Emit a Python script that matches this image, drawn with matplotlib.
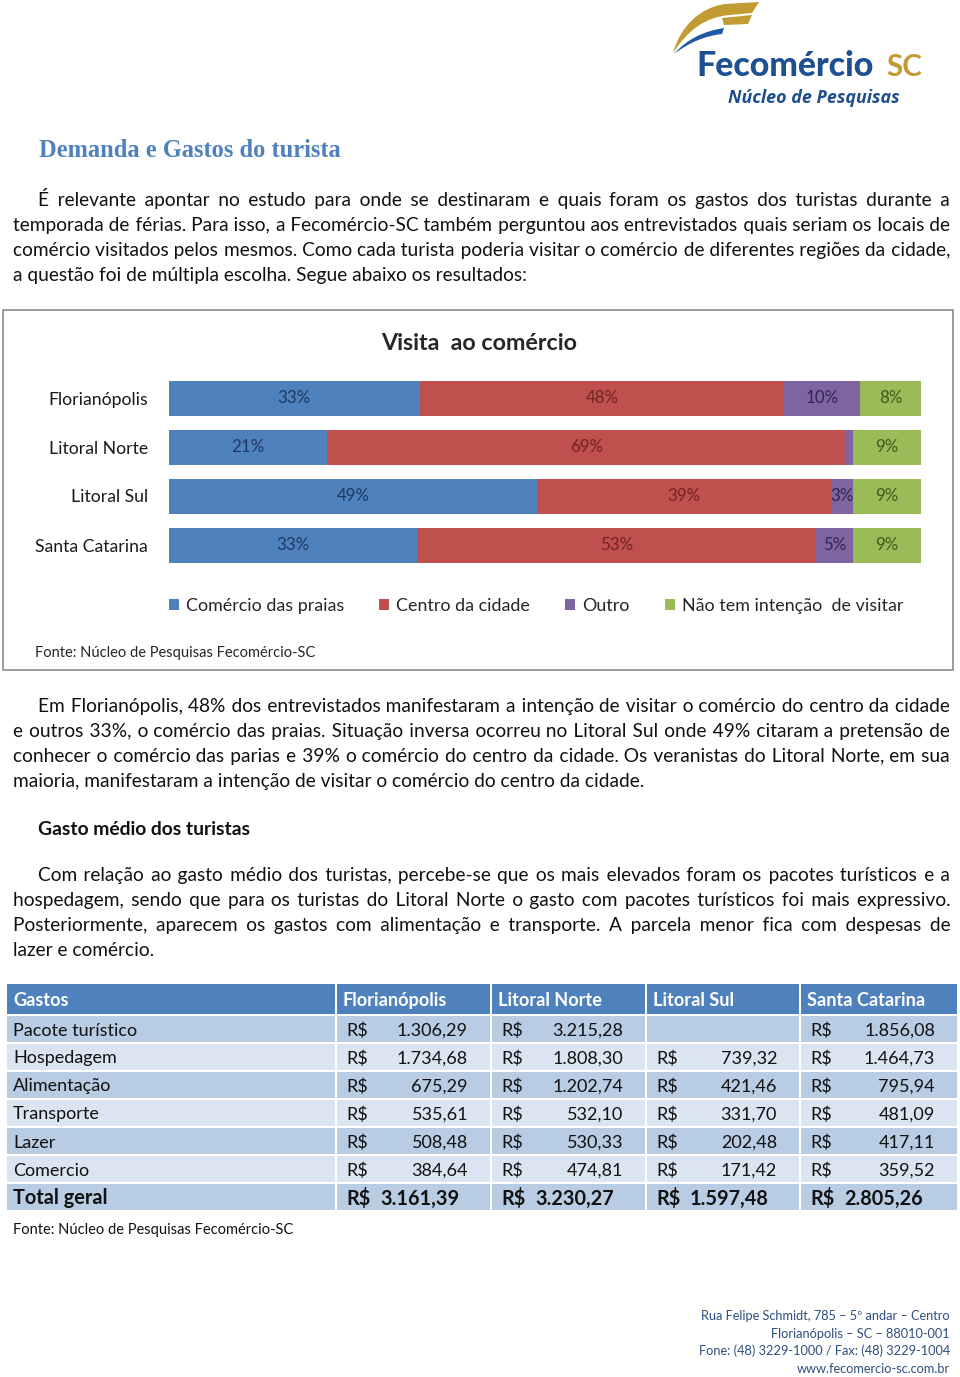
import matplotlib
matplotlib.use('Agg')
import matplotlib.pyplot as plt
from matplotlib.patches import Rectangle, PathPatch
from matplotlib.path import Path

W, H = 960, 1377

# ---------------- data ----------------
regions = ['Florianópolis', 'Litoral Norte', 'Litoral Sul', 'Santa Catarina']
comercio_praias = [33, 21, 49, 33]
centro_cidade = [48, 69, 39, 53]
outro = [10, 1, 3, 5]
nao_visitar = [8, 9, 9, 9]
series_names = ['Comércio das praias', 'Centro da cidade', 'Outro', 'Não tem intenção  de visitar']

gastos_rows = ['Pacote turístico', 'Hospedagem', 'Alimentação', 'Transporte', 'Lazer', 'Comercio']
gastos_cols = ['Florianópolis', 'Litoral Norte', 'Litoral Sul', 'Santa Catarina']
florianopolis_gastos = [1306.29, 1734.68, 675.29, 535.61, 508.48, 384.64]
litoral_norte_gastos = [3215.28, 1808.30, 1202.74, 532.10, 530.33, 474.81]
litoral_sul_gastos = [None, 739.32, 421.46, 331.70, 202.48, 171.42]
santa_catarina_gastos = [1856.08, 1464.73, 795.94, 481.09, 417.11, 359.52]
total_geral = [3161.39, 3230.27, 1597.48, 2805.26]

# ---------------- texts ----------------
heading = 'Demanda e Gastos do turista'
para1 = [
    'É relevante apontar no estudo para onde se destinaram e quais foram os gastos dos turistas durante a',
    'temporada de férias. Para isso, a Fecomércio-SC também perguntou aos entrevistados quais seriam os locais de',
    'comércio visitados pelos mesmos. Como cada turista poderia visitar o comércio de diferentes regiões da cidade,',
    'a questão foi de múltipla escolha. Segue abaixo os resultados:',
]
para2 = [
    'Em Florianópolis, 48% dos entrevistados manifestaram a intenção de visitar o comércio do centro da cidade',
    'e outros 33%, o comércio das praias. Situação inversa ocorreu no Litoral Sul onde 49% citaram a pretensão de',
    'conhecer o comércio das parias e 39% o comércio do centro da cidade. Os veranistas do Litoral Norte, em sua',
    'maioria, manifestaram a intenção de visitar o comércio do centro da cidade.',
]
subheading = 'Gasto médio dos turistas'
para3 = [
    'Com relação ao gasto médio dos turistas, percebe-se que os mais elevados foram os pacotes turísticos e a',
    'hospedagem, sendo que para os turistas do Litoral Norte o gasto com pacotes turísticos foi mais expressivo.',
    'Posteriormente, aparecem os gastos com alimentação e transporte. A parcela menor fica com despesas de',
    'lazer e comércio.',
]
fonte = 'Fonte: Núcleo de Pesquisas Fecomércio-SC'
footer = ['Rua Felipe Schmidt, 785 – 5º andar – Centro',
          'Florianópolis – SC – 88010-001',
          'Fone: (48) 3229-1000 / Fax: (48) 3229-1004',
          'www.fecomercio-sc.com.br']

BODY = 'Lato'
BODY_LIST = ['Lato', 'DejaVu Sans']
BLUE, RED, PURPLE, GREEN = '#4F81BD', '#C0504D', '#8064A2', '#9BBB59'
LABEL_COLORS = ['#1F3864', '#6E2422', '#2E2650', '#435A1E']

fig = plt.figure(figsize=(W / 100, H / 100), dpi=100)
fig.patch.set_facecolor('white')
page = fig.add_axes([0, 0, 1, 1])
page.set_xlim(0, W)
page.set_ylim(H, 0)
page.axis('off')
R = fig.canvas.get_renderer()


def width_of(s, size, **kw):
    t = page.text(0, 0, s, fontsize=size, **kw)
    w = t.get_window_extent(renderer=R).width
    t.remove()
    return w


def fit(s, target, **kw):
    return 20 * target / width_of(s, 20, **kw)


HAIR = '\u200a'


def justify(x0, x1, y, line, size, **kw):
    """Draw one justified line as a single text: widen gaps with hair spaces."""
    words = line.split()
    natural = width_of(' '.join(words), size, **kw)
    hw = (width_of('a' + HAIR * 10 + 'a', size, **kw) - width_of('aa', size, **kw)) / 10
    n = len(words) - 1
    extra = max(0.0, (x1 - x0) - natural)
    s = words[0]
    used = 0
    for i, w in enumerate(words[1:], 1):
        tgt = int(round(extra * i / n / hw))
        k = tgt - used
        used = tgt
        s += ' ' + HAIR * k + w
    page.text(x0, y, s, fontsize=size, ha='left', va='baseline', **kw)


def paragraph(lines, y0, size, indent=38, left=13, right=950, lead=25):
    for i, line in enumerate(lines):
        x0 = indent if i == 0 else left
        y = y0 + i * lead
        if i < len(lines) - 1:
            justify(x0, right, y, line, size, family=BODY_LIST, color='#111111')
        else:
            page.text(x0, y, line, fontsize=size, family=BODY_LIST, color='#111111',
                      ha='left', va='baseline')


# ---------------- logo ----------------
gold = '#C39B33'
navy = '#1D4F91'
gold_path = Path([(673, 53), (680, 28), (698, 8), (725, 4), (759, 2), (752, 13),
                  (730, 15), (705, 17), (688, 30), (673, 53)],
                 [Path.MOVETO, Path.CURVE4, Path.CURVE4, Path.CURVE4, Path.LINETO,
                  Path.LINETO, Path.LINETO, Path.CURVE4, Path.CURVE4, Path.CURVE4])
page.add_patch(PathPatch(gold_path, facecolor=gold, edgecolor='none'))
gold2 = Path([(722, 18), (752, 15), (748, 24), (724, 25), (722, 18)],
             [Path.MOVETO, Path.LINETO, Path.LINETO, Path.LINETO, Path.CLOSEPOLY])
page.add_patch(PathPatch(gold2, facecolor=gold, edgecolor='none'))
blue_path = Path([(674, 54), (688, 38), (705, 31), (724, 28), (722, 34),
                  (705, 36), (690, 42), (674, 54)],
                 [Path.MOVETO, Path.CURVE4, Path.CURVE4, Path.CURVE4, Path.LINETO,
                  Path.CURVE4, Path.CURVE4, Path.CURVE4])
page.add_patch(PathPatch(blue_path, facecolor='#2159A6', edgecolor='none'))

fs_logo = fit('Fecomércio', 178, family='Lato', weight='black')
page.text(696, 76, 'Fecomércio', fontsize=fs_logo, family='Lato', weight='black',
          color=navy, ha='left', va='baseline')
fs_sc = fit('SC', 36, family='Lato', weight='bold')
page.text(886, 76, 'SC', fontsize=fs_sc, family='Lato', weight='bold',
          color=gold, ha='left', va='baseline')
fs_np = fit('Núcleo de Pesquisas', 172, family='Open Sans', weight='bold', style='italic')
page.text(728, 103, 'Núcleo de Pesquisas', fontsize=fs_np, family='Open Sans',
          weight='bold', style='italic', color='#1F4E8C', ha='left', va='baseline')

# ---------------- heading & paragraphs ----------------
fs_h = fit(heading, 303, family='Liberation Serif', weight='bold')
page.text(39, 157, heading, fontsize=fs_h, family='Liberation Serif', weight='bold',
          color='#4F81BD', ha='left', va='baseline')

fs_body = fit(para1[-1], 517, family=BODY_LIST)
paragraph(para1, 206, fs_body)
paragraph(para2, 712, fs_body)
fs_sub = fit(subheading, 212, family=BODY, weight='bold')
page.text(38, 835, subheading, fontsize=fs_sub, family=BODY, weight='bold',
          color='#111111', ha='left', va='baseline')
paragraph(para3, 881, fs_body)

# ---------------- chart ----------------
page.add_patch(Rectangle((3, 310), 950, 360, facecolor='white', edgecolor='#8c8c8c', lw=1.2))
fs_title = fit('Visita  ao comércio', 196, family=BODY, weight='bold')
page.text(479, 350, 'Visita  ao comércio', fontsize=fs_title, family=BODY, weight='bold',
          color='#262626', ha='center', va='baseline')

bax = fig.add_axes([169 / W, 1 - 569.5 / H, 752 / W, 196 / H])
bax.set_facecolor('none')
series = [comercio_praias, centro_cidade, outro, nao_visitar]
colors = [BLUE, RED, PURPLE, GREEN]
totals = [sum(s[i] for s in series) for i in range(len(regions))]
lefts = [0.0] * len(regions)
fs_lab = fit('33%', 33, family=BODY)
handles = []
for vals, col, name, lcol in zip(series, colors, series_names, LABEL_COLORS):
    shares = [v / t * 100 for v, t in zip(vals, totals)]
    bars = bax.barh(range(len(regions)), shares, left=lefts, height=35 / 49,
                    color=col, edgecolor='none', label=name)
    handles.append(bars)
    for i, (v, s) in enumerate(zip(vals, shares)):
        if v >= 2:
            bax.text(lefts[i] + s / 2, i, f'{v}%', ha='center', va='center',
                     fontsize=fs_lab, family=BODY, color=lcol)
    lefts = [l + s for l, s in zip(lefts, shares)]
bax.set_xlim(0, 100)
bax.set_ylim(len(regions) - 0.5, -0.5)
for sp in bax.spines.values():
    sp.set_visible(False)
bax.set_xticks([])
fs_cat = fit('Santa Catarina', 113, family=BODY)
bax.set_yticks(range(len(regions)))
bax.set_yticklabels(regions, fontsize=fs_cat, family=BODY, color='#1a1a1a')
bax.tick_params(axis='y', length=0, pad=21 * 0.72)

fs_leg = fit(series_names[0], 158, family=BODY)
em = fs_leg * 100 / 72
fig.legend(handles, series_names, loc='center', bbox_to_anchor=(536 / W, 1 - 606 / H),
           ncol=4, frameon=False, prop={'family': BODY, 'size': fs_leg},
           handlelength=10 / em, handleheight=10 / em, handletextpad=7 / em,
           columnspacing=35 / em, labelcolor='#262626')

fs_fonte_c = fit(fonte, 280, family=BODY)
page.text(35, 657, fonte, fontsize=fs_fonte_c, family=BODY, color='#262626',
          ha='left', va='baseline')

# ---------------- table ----------------
col_l = [7, 337, 492, 647, 801]
col_r = [335, 490, 645, 799, 957]
hdr_top, hdr_bot = 984, 1013.5
row_top0, row_h = 1015, 28.0
DARK, LIGHT = '#B8CCE4', '#DBE5F1'

fs_tab = fit('Pacote turístico', 124, family=BODY)
fs_hdr = fit('Florianópolis', 104, family=BODY, weight='bold')
fs_tot = fit('Total geral', 94, family=BODY, weight='bold')


def brl(v):
    return f'{v:,.2f}'.replace(',', 'X').replace('.', ',').replace('X', '.')


for c in range(5):
    page.add_patch(Rectangle((col_l[c], hdr_top), col_r[c] - col_l[c], hdr_bot - hdr_top,
                             facecolor='#4F81BD', edgecolor='none'))
headers = ['Gastos'] + gastos_cols
for c, h in enumerate(headers):
    page.text(col_l[c] + 6, 1006, h, fontsize=fs_hdr, family=BODY,
              weight='bold', color='white', ha='left', va='baseline')

col_data = [florianopolis_gastos, litoral_norte_gastos, litoral_sul_gastos, santa_catarina_gastos]
all_rows = gastos_rows + ['Total geral']
for r, name in enumerate(all_rows):
    top = row_top0 + r * row_h
    fc = DARK if r % 2 == 0 else LIGHT
    for c in range(5):
        page.add_patch(Rectangle((col_l[c], top + 0.8), col_r[c] - col_l[c], row_h - 1.6,
                                 facecolor=fc, edgecolor='none'))
    yb = top + row_h / 2 + 6.5
    if r < len(gastos_rows):
        page.text(13, yb, name, fontsize=fs_tab, family=BODY, color='#111111',
                  ha='left', va='baseline')
        for c, data in enumerate(col_data):
            v = data[r]
            if v is None:
                continue
            page.text(col_l[c + 1] + 9, yb, 'R$', fontsize=fs_tab, family=BODY,
                      color='#111111', ha='left', va='baseline')
            page.text(col_r[c + 1] - 22, yb, brl(v), fontsize=fs_tab, family=BODY,
                      color='#111111', ha='right', va='baseline')
    else:
        yb = top + row_h / 2 + 7.5
        page.text(13, yb, name, fontsize=fs_tot, family=BODY, weight='bold',
                  color='#111111', ha='left', va='baseline')
        for c, v in enumerate(total_geral):
            page.text(col_l[c + 1] + 9, yb, 'R$', fontsize=fs_tot, family=BODY,
                      weight='bold', color='#111111', ha='left', va='baseline')
            page.text(col_l[c + 1] + 43, yb, brl(v), fontsize=fs_tot, family=BODY,
                      weight='bold', color='#111111', ha='left', va='baseline')

fs_fonte = fit(fonte, 280, family=BODY)
page.text(13, 1234, fonte, fontsize=fs_fonte, family=BODY, color='#111111',
          ha='left', va='baseline')

# ---------------- footer ----------------
fs_foot = fit(footer[2], 252, family=BODY)
for i, line in enumerate(footer):
    page.text(950, 1320 + i * 17.7, line, fontsize=fs_foot, family=BODY, color='#2E4F7F',
              ha='right', va='baseline')

fig.savefig('out.png', dpi=100, facecolor='white')
